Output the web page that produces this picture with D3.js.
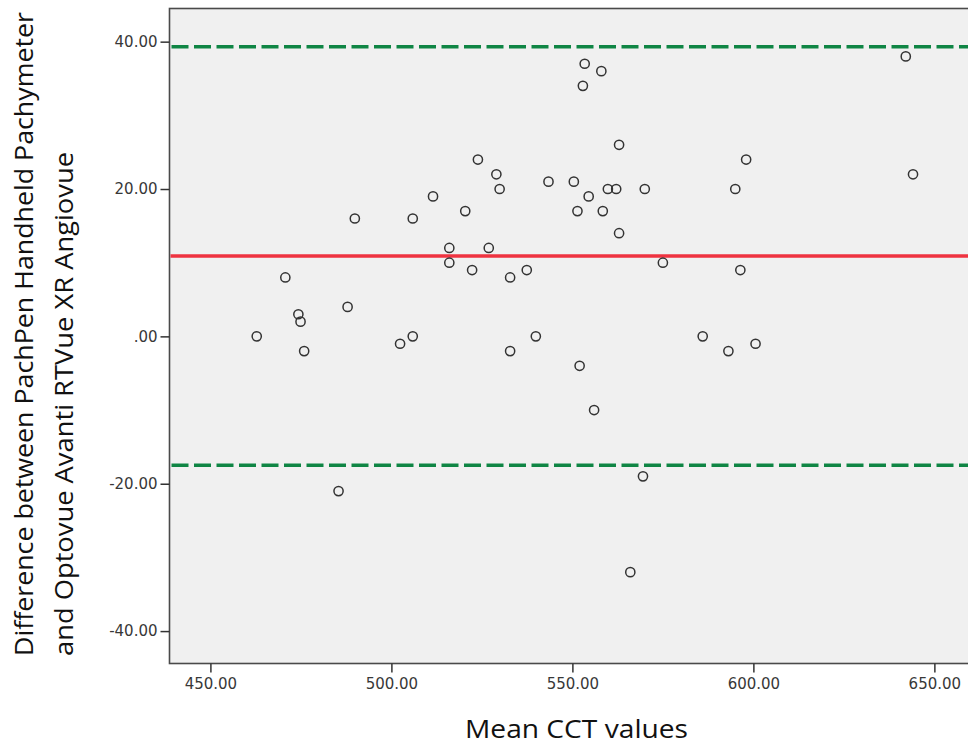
<!DOCTYPE html>
<html lang="en">
    <head>
        <meta charset="utf-8">
        <title>Bland-Altman CCT</title>
        <script src="https://d3js.org/d3.v7.min.js"></script>
        <style type="text/css">
          body {
            margin: 0;
            background: #ffffff;
          }
          svg {
            width: 968px;
            height: 744px;
            display: block;
          }
          .tick text {
            font-family: "DejaVu Sans", sans-serif;
            font-size: 15px;
            fill: #383838;
          }
          .tick line {
            stroke: #333333;
            stroke-width: 1.5px;
          }
          .axisTitle {
            font-family: "Open Sans", sans-serif;
            font-size: 25px;
            fill: #111111;
          }
        </style>
    </head>
    <body>
        <svg></svg>

        <script type="text/javascript">

        // mean of the two devices (x) and their difference (y), one entry per eye
        const meanCCT = [553.4, 558.0, 552.9, 562.9, 598.0, 642.1, 644.1, 523.9, 529.0, 529.9,
                         543.4, 550.4, 554.5, 559.8, 562.1, 570.0, 595.0, 551.4, 558.4, 511.5,
                         520.4, 489.9, 505.9, 516.0, 526.9, 562.9, 516.0, 522.3, 532.8, 537.4,
                         575.0, 596.4, 470.7, 474.3, 474.9, 487.9, 462.8, 475.9, 502.4, 505.9,
                         532.8, 539.9, 586.0, 593.1, 600.6, 552.0, 556.0, 485.4, 569.5, 566.0];
        const diffCCT = [37, 36, 34, 26, 24, 38, 22, 24, 22, 20,
                         21, 21, 19, 20, 20, 20, 20, 17, 17, 19,
                         17, 16, 16, 12, 12, 14, 10, 9, 8, 9,
                         10, 9, 8, 3, 2, 4, 0, -2, -1, 0,
                         -2, 0, 0, -2, -1, -4, -10, -21, -19, -32];

        // reference lines: mean difference and limits of agreement
        const meanDiff = 10.9;
        const upperLoA = 39.3;
        const lowerLoA = -17.5;

        // ticks
        const xTicks = [450, 500, 550, 600, 650];
        const xTickLabels = ["450.00", "500.00", "550.00", "600.00", "650.00"];
        const yTicks = [-40, -20, 0, 20, 40];
        const yTickLabels = ["-40.00", "-20.00", ".00", "20.00", "40.00"];

        // plot box (right side runs off the picture like the original)
        const boxLeft = 169.5, boxRight = 976, boxTop = 8.5, boxBottom = 663.5;

        const x = d3.scaleLinear()
                    .domain([438.7, 661.5])
                    .range([boxLeft, boxRight]);
        const y = d3.scaleLinear()
                    .domain([-44.4, 44.5])
                    .range([boxBottom, boxTop]);

        const svg = d3.select("svg");

        // grey plotting area
        svg.append("rect")
            .attr("x", boxLeft)
            .attr("y", boxTop)
            .attr("width", boxRight - boxLeft)
            .attr("height", boxBottom - boxTop)
            .attr("fill", "#f0f0f0")
            .attr("stroke", "#4a4a4a")
            .attr("stroke-width", 1.6);

        // axes
        const xAxis = svg.append("g")
            .attr("transform", "translate(0," + boxBottom + ")")
            .call(d3.axisBottom(x)
                .tickValues(xTicks)
                .tickFormat((d, i) => xTickLabels[i])
                .tickSize(9)
                .tickPadding(6));
        xAxis.select(".domain").remove();

        const yAxis = svg.append("g")
            .attr("transform", "translate(" + boxLeft + ",0)")
            .call(d3.axisLeft(y)
                .tickValues(yTicks)
                .tickFormat((d, i) => yTickLabels[i])
                .tickSize(9)
                .tickPadding(3));
        yAxis.select(".domain").remove();

        // limits of agreement - green dashed
        svg.selectAll(".loa")
            .data([upperLoA, lowerLoA])
            .enter()
            .append("line")
            .attr("class", "loa")
            .attr("x1", boxLeft + 2)
            .attr("x2", boxRight)
            .attr("y1", d => y(d))
            .attr("y2", d => y(d))
            .attr("stroke", "#0f8544")
            .attr("stroke-width", 3.6)
            .attr("stroke-dasharray", "17,5.5");

        // mean difference - red
        svg.append("line")
            .attr("x1", boxLeft + 1)
            .attr("x2", boxRight)
            .attr("y1", y(meanDiff))
            .attr("y2", y(meanDiff))
            .attr("stroke", "#ef3340")
            .attr("stroke-width", 3.6);

        // points
        svg.selectAll(".pt")
            .data(meanCCT)
            .enter()
            .append("circle")
            .attr("class", "pt")
            .attr("cx", d => x(d))
            .attr("cy", (d, i) => y(diffCCT[i]))
            .attr("r", 4.6)
            .attr("fill", "none")
            .attr("stroke", "#333333")
            .attr("stroke-width", 1.5);

        // axis titles (stretched a bit to the width of the original font)
        svg.append("text")
            .attr("class", "axisTitle")
            .attr("x", 465)
            .attr("y", 738)
            .attr("textLength", 223)
            .attr("lengthAdjust", "spacingAndGlyphs")
            .text("Mean CCT values");

        svg.append("text")
            .attr("class", "axisTitle")
            .attr("transform", "translate(33,656) rotate(-90)")
            .attr("textLength", 644)
            .attr("lengthAdjust", "spacingAndGlyphs")
            .text("Difference between PachPen Handheld Pachymeter");

        svg.append("text")
            .attr("class", "axisTitle")
            .attr("transform", "translate(73,656) rotate(-90)")
            .attr("textLength", 504)
            .attr("lengthAdjust", "spacingAndGlyphs")
            .text("and Optovue Avanti RTVue XR Angiovue");

        </script>
    </body>
</html>
